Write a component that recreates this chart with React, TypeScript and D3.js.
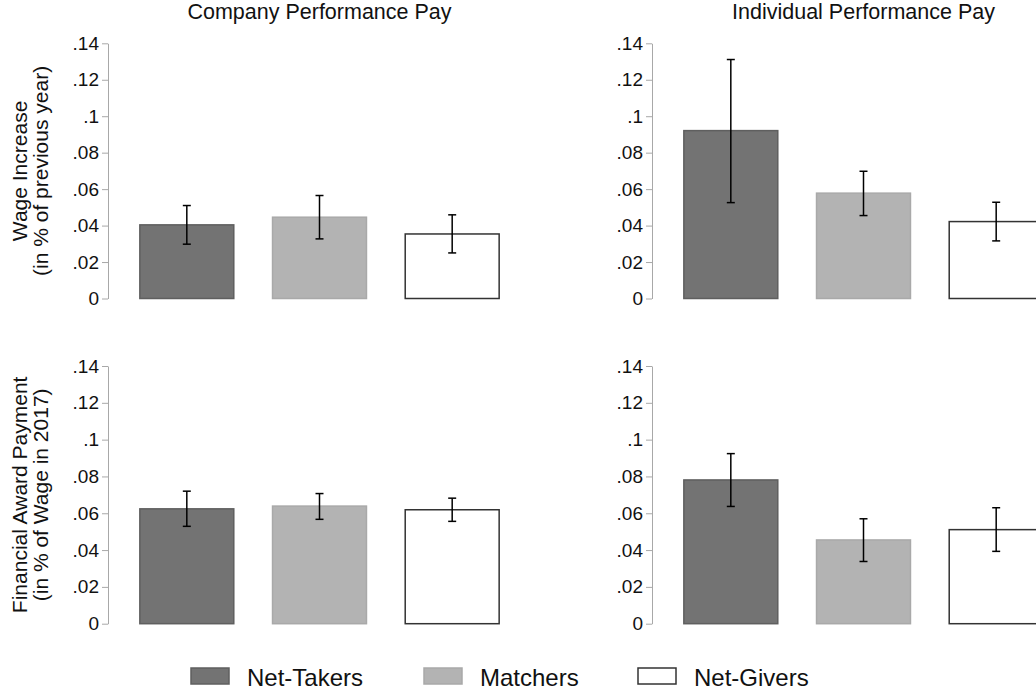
import { useEffect, useRef } from 'react';
import * as d3 from 'd3';

const groups = ['Net-Takers', 'Matchers', 'Net-Givers'];
const colTitles = ['Company Performance Pay', 'Individual Performance Pay'];
const rowTitles = [
  ['Wage Increase', '(in % of previous year)'],
  ['Financial Award Payment', '(in % of Wage in 2017)'],
];
const yTicks = [0, 0.02, 0.04, 0.06, 0.08, 0.1, 0.12, 0.14];

// mean, lower and upper bound of the 95% CI, per group
const wageCompany = [0.0404, 0.0446, 0.0354];
const wageCompanyLo = [0.0298, 0.0327, 0.025];
const wageCompanyHi = [0.051, 0.0565, 0.0459];

const wageIndividual = [0.0921, 0.0578, 0.0422];
const wageIndividualLo = [0.0526, 0.0455, 0.0316];
const wageIndividualHi = [0.1311, 0.0698, 0.0528];

const awardCompany = [0.0624, 0.0639, 0.0619];
const awardCompanyLo = [0.0529, 0.0567, 0.0556];
const awardCompanyHi = [0.072, 0.0707, 0.0682];

const awardIndividual = [0.0781, 0.0455, 0.0511];
const awardIndividualLo = [0.0637, 0.0338, 0.0393];
const awardIndividualHi = [0.0924, 0.057, 0.063];

const panels = [
  { row: 0, col: 0, mean: wageCompany, lo: wageCompanyLo, hi: wageCompanyHi },
  { row: 0, col: 1, mean: wageIndividual, lo: wageIndividualLo, hi: wageIndividualHi },
  { row: 1, col: 0, mean: awardCompany, lo: awardCompanyLo, hi: awardCompanyHi },
  { row: 1, col: 1, mean: awardIndividual, lo: awardIndividualLo, hi: awardIndividualHi },
];

const fills = ['#737373', '#b3b3b3', '#ffffff'];
const strokes = ['#5f5f5f', '#a9a9a9', '#333333'];

const fmt = (d: number) => (d === 0 ? '0' : String(d).replace(/^0/, ''));

export default function App() {
  const svgRef = useRef<SVGSVGElement>(null);

  useEffect(() => {
    if (!svgRef.current) return;
    const svg = d3.select(svgRef.current);
    svg.selectAll('*').remove();

    const font = '"Liberation Sans", Arial, Helvetica, sans-serif';
    const colX = [[108, 531], [652, 1075]];
    const rowY = [[298.5, 43.3], [623.7, 366]];

    // column titles
    colTitles.forEach((t, i) => {
      svg.append('text')
        .attr('x', (colX[i][0] + colX[i][1]) / 2)
        .attr('y', 19)
        .attr('text-anchor', 'middle')
        .attr('font-family', font)
        .attr('font-size', 21.5)
        .attr('fill', '#111')
        .text(t);
    });

    // row titles
    rowTitles.forEach((lines, r) => {
      const cy = (rowY[r][0] + rowY[r][1]) / 2;
      lines.forEach((line, j) => {
        svg.append('text')
          .attr('transform', `translate(${27 + j * 21},${cy}) rotate(-90)`)
          .attr('text-anchor', 'middle')
          .attr('font-family', font)
          .attr('font-size', 21)
          .attr('fill', '#111')
          .text(line);
      });
    });

    panels.forEach(p => {
      const x = d3.scaleBand<string>()
        .domain(groups)
        .range(colX[p.col])
        .paddingInner(0.292)
        .paddingOuter(0.24);
      const y = d3.scaleLinear().domain([0, 0.14]).range(rowY[p.row]);

      const g = svg.append('g');

      const axis = g.append('g')
        .attr('transform', `translate(${colX[p.col][0]},0)`)
        .call(d3.axisLeft(y).tickValues(yTicks).tickFormat(d => fmt(+d)).tickSize(6).tickSizeOuter(0).tickPadding(3));
      axis.select('.domain').attr('stroke', '#a8a8a8');
      axis.selectAll('.tick line').attr('stroke', '#a8a8a8');
      axis.selectAll('.tick text')
        .attr('font-family', font)
        .attr('font-size', 19)
        .attr('fill', '#111');

      g.selectAll('rect.bar')
        .data(groups)
        .join('rect')
        .attr('class', 'bar')
        .attr('x', d => x(d)!)
        .attr('width', x.bandwidth())
        .attr('y', (d, i) => y(p.mean[i]))
        .attr('height', (d, i) => y(0) - y(p.mean[i]))
        .attr('fill', (d, i) => fills[i])
        .attr('stroke', (d, i) => strokes[i])
        .attr('stroke-width', 1.5);

      const cap = 4;
      const err = g.selectAll('g.err')
        .data(groups)
        .join('g')
        .attr('class', 'err')
        .attr('stroke', '#000')
        .attr('stroke-width', 1.5);
      err.append('line')
        .attr('x1', d => x(d)! + x.bandwidth() / 2)
        .attr('x2', d => x(d)! + x.bandwidth() / 2)
        .attr('y1', (d, i) => y(p.lo[i]))
        .attr('y2', (d, i) => y(p.hi[i]));
      err.append('line')
        .attr('x1', d => x(d)! + x.bandwidth() / 2 - cap)
        .attr('x2', d => x(d)! + x.bandwidth() / 2 + cap)
        .attr('y1', (d, i) => y(p.lo[i]))
        .attr('y2', (d, i) => y(p.lo[i]));
      err.append('line')
        .attr('x1', d => x(d)! + x.bandwidth() / 2 - cap)
        .attr('x2', d => x(d)! + x.bandwidth() / 2 + cap)
        .attr('y1', (d, i) => y(p.hi[i]))
        .attr('y2', (d, i) => y(p.hi[i]));
    });

    // legend
    const legendX = [191, 424, 638];
    const legend = svg.append('g').attr('transform', 'translate(0,668)');
    const items = legend.selectAll('g')
      .data(groups)
      .join('g')
      .attr('transform', (d, i) => `translate(${legendX[i]},0)`);
    items.append('rect')
      .attr('width', 38)
      .attr('height', 16)
      .attr('fill', (d, i) => fills[i])
      .attr('stroke', (d, i) => strokes[i])
      .attr('stroke-width', 1.5);
    items.append('text')
      .attr('x', 56)
      .attr('y', 17.5)
      .attr('font-family', font)
      .attr('font-size', 24)
      .attr('fill', '#111')
      .text(d => d);
  }, []);

  return (
    <div style={{ position: 'absolute', left: 0, top: 0, width: 1036, height: 694, overflow: 'hidden', background: '#fff' }}>
      <svg ref={svgRef} width={1036} height={694} style={{ display: 'block' }} />
    </div>
  );
}
